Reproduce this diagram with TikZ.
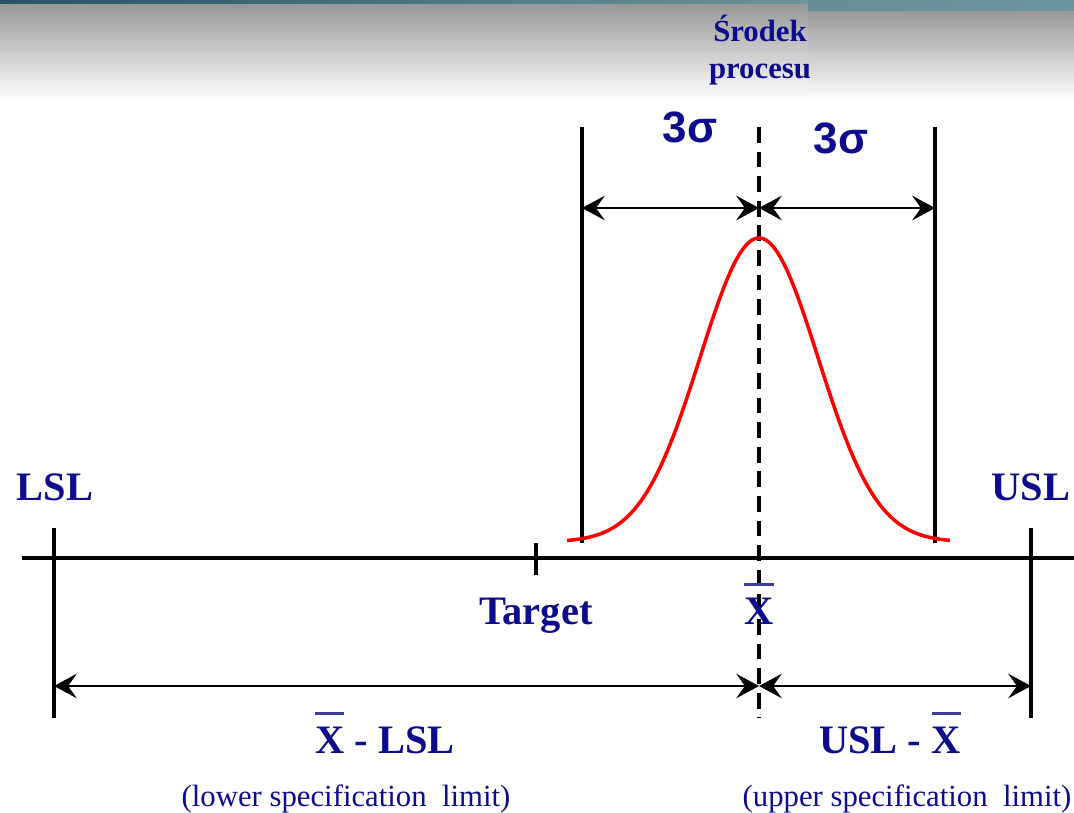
\documentclass[tikz,border=0pt]{standalone}
\usepackage{fontspec}
\setmainfont{Liberation Serif}
\newfontfamily\sigmafont{Liberation Sans}
\usetikzlibrary{arrows.meta}

\definecolor{specblue}{RGB}{12,12,140}
\definecolor{barblue}{RGB}{62,62,160}
\definecolor{tealdark}{RGB}{38,84,98}
\definecolor{teallight}{RGB}{108,148,156}
\definecolor{bandgray}{RGB}{152,152,152}
\newcommand{\xbar}{\leavevmode\rlap{\raisebox{0.93em}{\color{barblue}\rule{0.72em}{0.09em}}}X}

\begin{document}
\begin{tikzpicture}[
  x=0.02cm, y=-0.02cm,
  spec/.style={
    text=specblue,
    font=\fontsize{23}{27}\selectfont\bfseries,
    inner sep=0pt
  },
  sigmalabel/.style={
    text=specblue,
    font=\sigmafont\fontsize{25}{29}\selectfont\bfseries,
    inner sep=0pt
  },
  note/.style={
    text=specblue,
    font=\fontsize{17.5}{20}\selectfont,
    inner sep=0pt
  },
  limitline/.style={line width=2.2pt},
  dimline/.style={
    line width=1.1pt,
    {Stealth[length=13pt,width=14pt,inset=5pt]}-{Stealth[length=13pt,width=14pt,inset=5pt]}
  }
]

  % Frame of the slide, with its banner.
  \useasboundingbox (0,0) rectangle (1074,813);
  \shade[top color=bandgray, bottom color=white] (0,4) rectangle (808,100);
  \shade[top color=bandgray, bottom color=white] (808,11) rectangle (1074,100);
  \shade[left color=tealdark, right color=teallight] (0,0) rectangle (808,4);
  \shade[left color=teallight!95!black, right color=teallight] (808,0) rectangle (1074,11);

  % Spec limits, target and the axis.
  \coordinate (axisL) at (22,558);
  \coordinate (axisR) at (1074,558);
  \coordinate (lslTop) at (54,528);  \coordinate (lslBot) at (54,718);
  \coordinate (uslTop) at (1031,528); \coordinate (uslBot) at (1031,718);
  \coordinate (tgtTop) at (536,543); \coordinate (tgtBot) at (536,575);

  \draw[limitline] (axisL) -- (axisR);
  \draw[limitline] (lslTop) -- (lslBot);
  \draw[limitline] (uslTop) -- (uslBot);
  \draw[limitline] (tgtTop) -- (tgtBot);

  % Process spread: +/- 3 sigma round the mean.
  \def\mu{759}
  \def\sig{59}
  \coordinate (loTop) at (582,127);  \coordinate (loBot) at (582,543);
  \coordinate (hiTop) at (935,127);  \coordinate (hiBot) at (935,543);
  \coordinate (midTop) at (\mu,127); \coordinate (midBot) at (\mu,718);

  \draw[limitline] (loTop) -- (loBot);
  \draw[limitline] (hiTop) -- (hiBot);
  \draw[limitline, dash pattern=on 9pt off 5pt] (midTop) -- (midBot);

  \draw[red, line width=2pt, line join=round]
    plot[domain=567:950, samples=150]
      (\x, {542-304*exp(-0.5*((\x-\mu)/\sig)^2)});

  % Dimension arrows.
  \coordinate (sigL) at (582,208);
  \coordinate (sigM) at (\mu,208);
  \coordinate (sigR) at (935,208);
  \coordinate (dimL) at (54,686);
  \coordinate (dimM) at (\mu,686);
  \coordinate (dimR) at (1031,686);

  \draw[dimline] (sigL) -- (sigM);
  \draw[dimline] (sigM) -- (sigR);
  \draw[dimline] (dimL) -- (dimM);
  \draw[dimline] (dimM) -- (dimR);

  % Labels.
  \node[spec, align=center, font=\fontsize{17.5}{21.5}\selectfont\bfseries]
    (centre) at (760,50) {Środek\\procesu};
  \node[sigmalabel] (sigmaLo) at (690,127) {3σ};
  \node[sigmalabel] (sigmaHi) at (841,138) {3σ};

  \node[spec] (lsl) at (55,487) {LSL};
  \node[spec] (usl) at (1031,487) {USL};
  \node[spec, anchor=base] (target) at (536,624) {Target};
  \node[spec, anchor=base] (mean) at (\mu,624) {\xbar};

  \node[spec, anchor=base] (lowgap) at (385,753) {\xbar{} - LSL};
  \node[spec, anchor=base] (highgap) at (890,753) {USL - \xbar};

  \node[note, anchor=base] (lownote) at (346,806) {(lower specification~~limit)};
  \node[note, anchor=base] (highnote) at (907,806) {(upper specification~~limit)};

\end{tikzpicture}
\end{document}
